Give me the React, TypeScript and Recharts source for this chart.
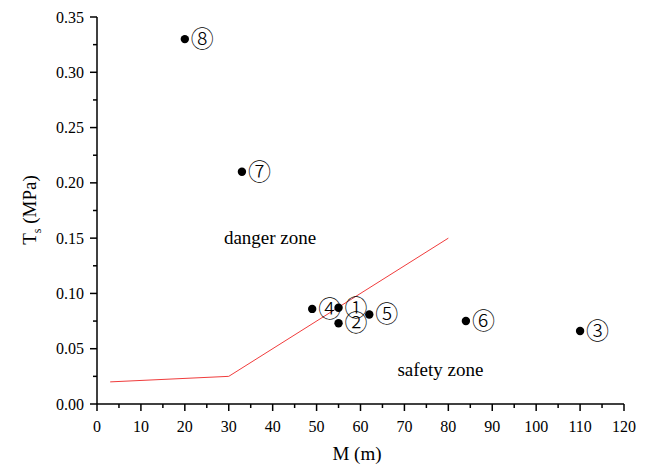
import { ScatterChart, Scatter, XAxis, YAxis } from 'recharts'

// measured points (M in m, Ts in MPa)
const pointM = [55, 55, 110, 49, 62, 84, 33, 20]
const pointTs = [0.087, 0.073, 0.066, 0.086, 0.081, 0.075, 0.21, 0.33]
const pointLabels = ['①', '②', '③', '④', '⑤', '⑥', '⑦', '⑧']

// boundary line between zones
const boundaryM = [3, 30, 80]
const boundaryTs = [0.02, 0.025, 0.15]

const zoneNames = ['danger zone', 'safety zone']
const zoneM = [39.4, 78.2]
const zoneTs = [0.15, 0.031]

const xTicks = [0, 5, 10, 15, 20, 25, 30, 35, 40, 45, 50, 55, 60, 65, 70, 75, 80, 85, 90, 95, 100, 105, 110, 115, 120]
const xLabelTicks = [0, 10, 20, 30, 40, 50, 60, 70, 80, 90, 100, 110, 120]
const yTicks = [0, 0.025, 0.05, 0.075, 0.1, 0.125, 0.15, 0.175, 0.2, 0.225, 0.25, 0.275, 0.3, 0.325, 0.35]
const yLabelTicks = [0, 0.05, 0.1, 0.15, 0.2, 0.25, 0.3, 0.35]

const points = pointM.map((m, i) => ({ m, ts: pointTs[i], label: pointLabels[i] }))
const boundary = boundaryM.map((m, i) => ({ m, ts: boundaryTs[i] }))
const zones = zoneNames.map((name, i) => ({ m: zoneM[i], ts: zoneTs[i], name }))

const serif = '"Liberation Serif", "Times New Roman", serif'

function XTick({ x, y, payload }: any) {
  const major = xLabelTicks.includes(payload.value)
  return (
    <g>
      <line x1={x} x2={x} y1={y} y2={y + (major ? 7 : 4)} stroke="#000" strokeWidth={1.5} />
      {major && (
        <text x={x} y={y + 28} textAnchor="middle" fontSize={16} fontFamily={serif} fill="#000">
          {payload.value}
        </text>
      )}
    </g>
  )
}

function YTick({ x, y, payload }: any) {
  const major = yLabelTicks.some(v => Math.abs(v - payload.value) < 1e-9)
  return (
    <g>
      <line x1={x} x2={x - (major ? 7 : 4)} y1={y} y2={y} stroke="#000" strokeWidth={1.5} />
      {major && (
        <text x={x - 13} y={y + 5.5} textAnchor="end" fontSize={16} fontFamily={serif} fill="#000">
          {payload.value.toFixed(2)}
        </text>
      )}
    </g>
  )
}

function PointShape({ cx, cy, payload }: any) {
  return (
    <g>
      <circle cx={cx} cy={cy} r={4.2} fill="#000" />
      <text
        x={cx + 6}
        y={cy + 8}
        fontSize={23}
        fontFamily='"Noto Sans CJK JP", "DejaVu Sans", sans-serif'
        fontWeight={300}
        fill="#000"
      >
        {payload.label}
      </text>
    </g>
  )
}

function ZoneShape({ cx, cy, payload }: any) {
  return (
    <text x={cx} y={cy + 6} textAnchor="middle" fontSize={19} fontFamily={serif} fill="#000">
      {payload.name}
    </text>
  )
}

export default function App() {
  return (
    <div style={{ position: 'absolute', left: 0, top: 0, width: 648, height: 465, background: '#fff' }}>
      <ScatterChart width={648} height={465} margin={{ top: 17, right: 24, bottom: 0, left: 0 }}>
        <XAxis
          type="number"
          dataKey="m"
          domain={[0, 120]}
          ticks={xTicks}
          interval={0}
          height={61}
          tickSize={0}
          tickMargin={0}
          tickLine={false}
          axisLine={{ stroke: '#000', strokeWidth: 1.5 }}
          tick={<XTick />}
          label={{
            content: () => (
              <text x={357} y={460} textAnchor="middle" fontSize={19} fontFamily={serif} fill="#000">
                M (m)
              </text>
            ),
          }}
        />
        <YAxis
          type="number"
          dataKey="ts"
          domain={[0, 0.35]}
          ticks={yTicks}
          interval={0}
          width={97}
          tickSize={0}
          tickMargin={0}
          tickLine={false}
          axisLine={{ stroke: '#000', strokeWidth: 1.5 }}
          tick={<YTick />}
          label={{
            content: () => (
              <text
                x={36}
                y={210}
                transform="rotate(-90 36 210)"
                textAnchor="middle"
                fontSize={19}
                fontFamily={serif}
                fill="#000"
              >
                T<tspan fontSize={12} dy={5}>s</tspan>
                <tspan dy={-5}> (MPa)</tspan>
              </text>
            ),
          }}
        />
        <Scatter
          data={boundary}
          line={{ stroke: '#f03c3c', strokeWidth: 1 }}
          shape={() => <g />}
          isAnimationActive={false}
        />
        <Scatter data={points} shape={<PointShape />} isAnimationActive={false} />
        <Scatter data={zones} shape={<ZoneShape />} isAnimationActive={false} />
      </ScatterChart>
    </div>
  )
}
